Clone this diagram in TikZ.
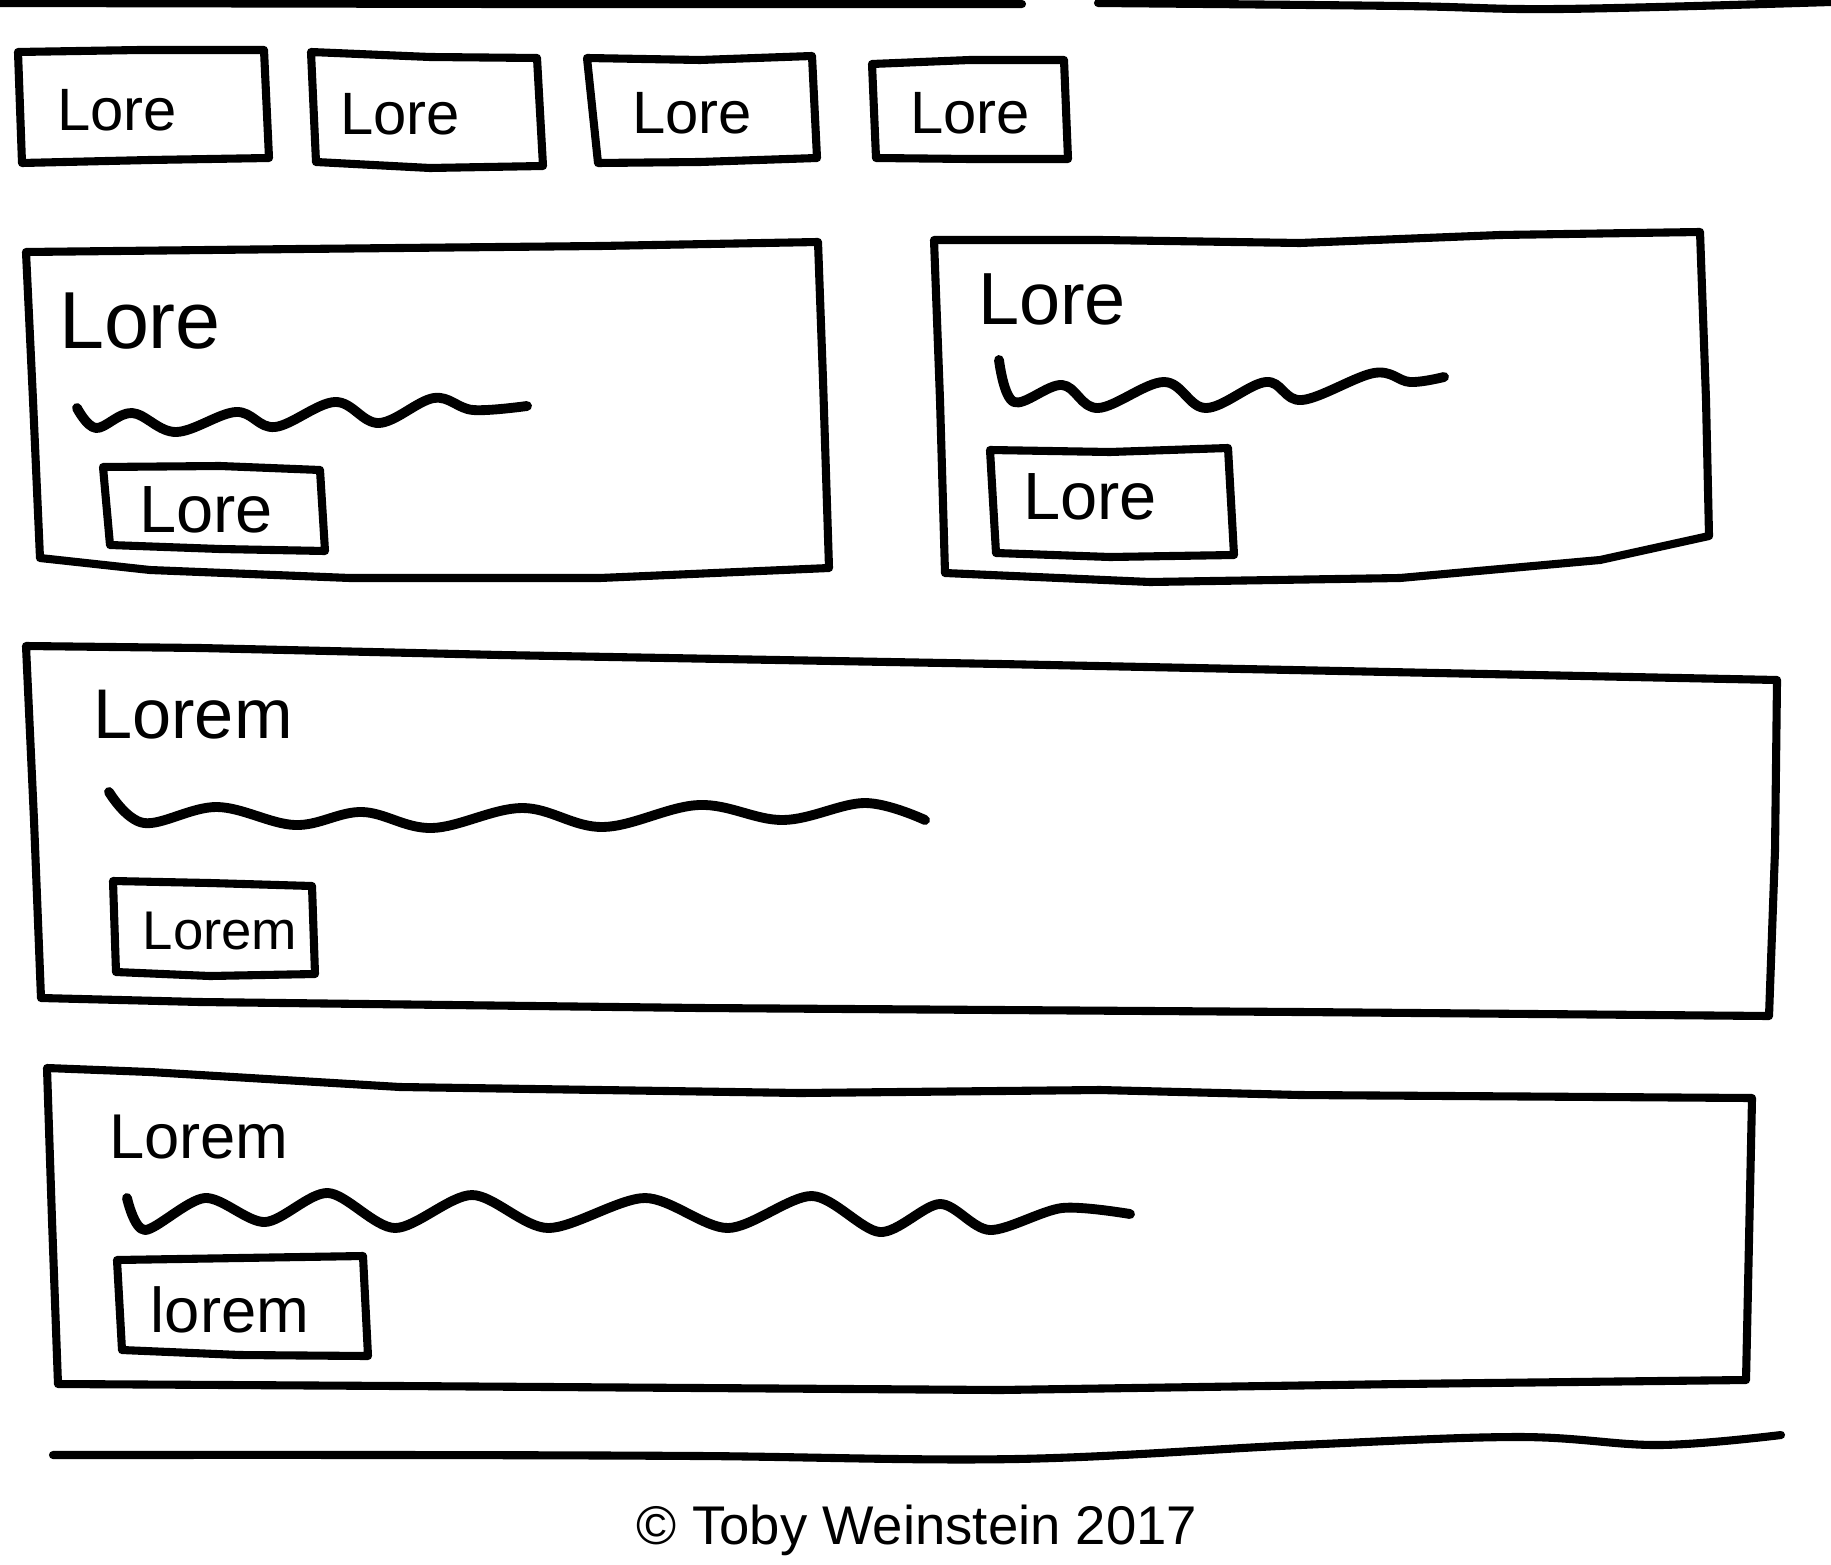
\documentclass[tikz,border=0pt]{standalone}
\usepackage{fontspec}
\setmainfont{Liberation Sans}
\tikzset{
  ink/.style={line width=2.3pt, line join=round, line cap=round, black},
  wave/.style={line width=2.8pt, line cap=round, line join=round, black},
  lbl/.style={inner sep=0pt, anchor=center, black}
}
\begin{document}
\begin{tikzpicture}[x=0.01cm,y=-0.01cm]
\useasboundingbox (0,0) rectangle (1831,1564);
\fill[white] (0,0) rectangle (1831,1564);

% top rule (two strokes)
\draw[ink] (0,3) -- (500,4) -- (1022,4);
\draw[ink] plot[smooth, tension=0.6] coordinates {(1098,3) (1400,6) (1560,9) (1831,2)};

% tabs
\draw[ink] (18,52) -- (140,50) -- (264,50) -- (269,158) -- (150,160) -- (22,163) -- cycle;
\draw[ink] (311,52) -- (430,57) -- (537,58) -- (543,166) -- (430,168) -- (316,162) -- cycle;
\draw[ink] (587,58) -- (700,60) -- (812,56) -- (817,158) -- (700,162) -- (598,163) -- cycle;
\draw[ink] (872,64) -- (970,60) -- (1064,60) -- (1068,159) -- (970,159) -- (876,158) -- cycle;
\node[lbl, font=\fontsize{17}{19}\selectfont] (t1) at (117,110) {Lore};
\node[lbl, font=\fontsize{17}{19}\selectfont] (t2) at (400,114) {Lore};
\node[lbl, font=\fontsize{17}{19}\selectfont] (t3) at (692,113) {Lore};
\node[lbl, font=\fontsize{17}{19}\selectfont] (t4) at (970,113) {Lore};

% card 1
\draw[ink] (26,252) -- (300,249) -- (600,246) -- (818,242) -- (823,380) -- (829,568)
  -- (600,578) -- (350,578) -- (150,570) -- (40,558) -- (33,400) -- cycle;
\node[lbl, font=\fontsize{23}{25}\selectfont] (c1t) at (140,321) {Lore};
\draw[wave] plot[smooth, tension=0.6] coordinates {(77,408) (96,428) (132,413) (176,432) (236,412) (275,427) (335,402) (379,423) (434,398) (473,410) (527,406)};
\draw[ink] (103,467) -- (220,466) -- (320,470) -- (325,551) -- (220,549) -- (110,545) -- cycle;
\node[lbl, font=\fontsize{19}{21}\selectfont] (c1b) at (206,510) {Lore};

% card 2
\draw[ink] (934,240) -- (1100,240) -- (1300,243) -- (1500,235) -- (1700,232) -- (1706,400) -- (1709,536)
  -- (1600,560) -- (1400,578) -- (1150,582) -- (945,573) -- (940,400) -- cycle;
\node[lbl, font=\fontsize{21}{23}\selectfont] (c2t) at (1052,299) {Lore};
\draw[wave] plot[smooth, tension=0.6] coordinates {(999,360) (1014,402) (1062,385) (1098,408) (1164,382) (1206,408) (1266,382) (1302,400) (1374,373) (1410,382) (1444,377)};
\draw[ink] (990,450) -- (1110,452) -- (1228,448) -- (1234,555) -- (1110,557) -- (996,553) -- cycle;
\node[lbl, font=\fontsize{19}{21}\selectfont] (c2b) at (1090,497) {Lore};

% card 3
\draw[ink] (26,646) -- (200,648) -- (500,655) -- (1000,664) -- (1777,680) -- (1775,850) -- (1769,1016)
  -- (1300,1012) -- (700,1008) -- (200,1002) -- (41,998) -- (34,820) -- cycle;
\node[lbl, font=\fontsize{20}{22}\selectfont] (c3t) at (193,715) {Lorem};
\draw[wave] plot[smooth, tension=0.6] coordinates {(109,792) (144,823) (217,807) (295,825) (362,812) (432,828) (522,808) (603,827) (699,805) (783,820) (865,803) (925,820)};
\draw[ink] (113,881) -- (210,883) -- (312,886) -- (315,974) -- (210,976) -- (116,972) -- cycle;
\node[lbl, font=\fontsize{15.5}{18}\selectfont] (c3b) at (220,931) {Lorem};

% card 4
\draw[ink] (47,1068) -- (150,1072) -- (400,1087) -- (800,1093) -- (1100,1090) -- (1300,1095) -- (1752,1098)
  -- (1749,1240) -- (1746,1380) -- (1400,1384) -- (1000,1390) -- (400,1386) -- (58,1384) -- (52,1220) -- cycle;
\node[lbl, font=\fontsize{18}{20}\selectfont] (c4t) at (199,1137) {Lorem};
\draw[wave] plot[smooth, tension=0.5] coordinates {(127,1198) (145,1230) (205,1198) (265,1222) (328,1193) (395,1228) (472,1195) (548,1228) (645,1198) (728,1228) (812,1196) (880,1232) (940,1204) (990,1230) (1062,1208) (1130,1214)};
\draw[ink] (117,1260) -- (240,1258) -- (363,1256) -- (368,1356) -- (240,1355) -- (122,1350) -- cycle;
\node[lbl, font=\fontsize{18}{20}\selectfont] (c4b) at (230,1310) {lorem};

% bottom rule
\draw[ink] plot[smooth, tension=0.6] coordinates {(53,1455) (400,1455) (700,1456) (1016,1459) (1300,1445) (1519,1437) (1659,1445) (1781,1435)};

% footer
\node[lbl, font=\fontsize{15.5}{18}\selectfont] (foot) at (917,1530) {© Toby Weinstein 2017};
\end{tikzpicture}
\end{document}
